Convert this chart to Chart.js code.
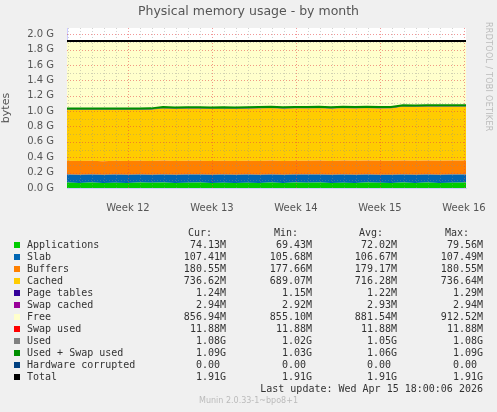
<!DOCTYPE html>
<html>
<head>
<meta charset="utf-8">
<script src="https://cdn.jsdelivr.net/npm/chart.js@4"></script>
<style>
  body { margin: 0; background: #f0f0f0; width: 497px; height: 412px; overflow: hidden; position: relative; font-family: "DejaVu Sans", sans-serif; }
  #wrap { position: absolute; left: 0; top: 0; width: 497px; height: 230px; }
  #title { position: absolute; top: 3px; width: 497px; text-align: center; font-size: 12.5px; color: #555; }
  #vtext { position: absolute; left: 484px; top: 22px; writing-mode: vertical-rl; font-size: 8px; color: #bbb; letter-spacing: 0.3px; }
  .mono { position: absolute; font-family: "DejaVu Sans Mono", monospace; font-size: 10px; color: #333; white-space: pre; line-height: 12px; }
  .sq { position: absolute; width: 6px; height: 6px; }
  #ver { position: absolute; top: 396px; width: 497px; text-align: center; font-size: 8px; color: #bbb; }
</style>
</head>
<body>
<div id="wrap"><canvas id="c" width="497" height="230"></canvas></div>
<div id="title">Physical memory usage - by month</div>
<div id="vtext">RRDTOOL / TOBI OETIKER</div>
<div id="legend"></div>
<div id="ver">Munin 2.0.33-1~bpo8+1</div>
<script>
// x positions in days since the left edge of the plot
const days = [0,1,2,3,4,5,6,7,8,9,10,11,12,13,14,15,16,17,18,19,20,21,22,23,24,25,26,27,28,29,30,31,32,33.25];
const weekTicks = [5.08, 12.08, 19.08, 26.08, 33.08];
const weekLabels = ["Week 12", "Week 13", "Week 14", "Week 15", "Week 16"];

// values in G
const applications = [0.070,0.066,0.070,0.066,0.069,0.066,0.070,0.067,0.070,0.066,0.069,0.070,0.066,0.068,0.066,0.067,0.066,0.070,0.066,0.070,0.068,0.070,0.066,0.069,0.066,0.070,0.067,0.066,0.070,0.066,0.070,0.066,0.069,0.072];
const slab = [0.105,0.106,0.106,0.105,0.106,0.106,0.105,0.106,0.107,0.106,0.107,0.106,0.106,0.107,0.106,0.107,0.106,0.107,0.107,0.106,0.107,0.107,0.106,0.107,0.107,0.107,0.106,0.107,0.107,0.107,0.107,0.107,0.107,0.105];
const buffers = [0.178,0.178,0.178,0.178,0.178,0.178,0.178,0.178,0.179,0.179,0.179,0.179,0.179,0.179,0.179,0.179,0.179,0.179,0.179,0.179,0.179,0.179,0.180,0.180,0.180,0.180,0.180,0.180,0.180,0.180,0.180,0.181,0.181,0.181];
const cached = [0.665,0.668,0.664,0.668,0.665,0.668,0.664,0.668,0.680,0.680,0.680,0.680,0.680,0.680,0.680,0.680,0.686,0.683,0.683,0.683,0.683,0.683,0.683,0.683,0.683,0.683,0.683,0.685,0.704,0.704,0.704,0.704,0.704,0.701];
const pageTables = [0.0012,0.0012,0.0012,0.0012,0.0012,0.0012,0.0012,0.0012,0.0012,0.0012,0.0012,0.0012,0.0012,0.0012,0.0012,0.0012,0.0012,0.0012,0.0012,0.0012,0.0012,0.0012,0.0012,0.0012,0.0012,0.0012,0.0012,0.0012,0.0012,0.0012,0.0012,0.0012,0.0012,0.0012];
const swapCached = [0.003,0.003,0.003,0.003,0.003,0.003,0.003,0.003,0.003,0.003,0.003,0.003,0.003,0.003,0.003,0.003,0.003,0.003,0.003,0.003,0.003,0.003,0.003,0.003,0.003,0.003,0.003,0.003,0.003,0.003,0.003,0.003,0.003,0.003];
const total = 1.91;
const swapUsed = 0.012;

const legendRows = [
  ["Applications", "#00cc00", "74.13M", "69.43M", "72.02M", "79.56M"],
  ["Slab", "#0066b3", "107.41M", "105.68M", "106.67M", "107.49M"],
  ["Buffers", "#ff8000", "180.55M", "177.66M", "179.17M", "180.55M"],
  ["Cached", "#ffcc00", "736.62M", "689.07M", "716.28M", "736.64M"],
  ["Page tables", "#330099", "1.24M", "1.15M", "1.22M", "1.29M"],
  ["Swap cached", "#990099", "2.94M", "2.92M", "2.93M", "2.94M"],
  ["Free", "#ffffcc", "856.94M", "855.10M", "881.54M", "912.52M"],
  ["Swap used", "#ff0000", "11.88M", "11.88M", "11.88M", "11.88M"],
  ["Used", "#808080", "1.08G", "1.02G", "1.05G", "1.08G"],
  ["Used + Swap used", "#008f00", "1.09G", "1.03G", "1.06G", "1.09G"],
  ["Hardware corrupted", "#004080", "0.00", "0.00", "0.00", "0.00"],
  ["Total", "#000000", "1.91G", "1.91G", "1.91G", "1.91G"],
];

const used = days.map((d, i) => applications[i] + slab[i] + buffers[i] + cached[i] + pageTables[i] + swapCached[i]);
const free = used.map(u => total - u);
const pts = arr => days.map((d, i) => ({ x: d, y: Array.isArray(arr) ? arr[i] : arr }));

function area(label, data, color, first) {
  return { label, data: pts(data), backgroundColor: color, borderColor: color, borderWidth: 0,
    fill: first ? "origin" : "-1", pointRadius: 0, yAxisID: "y", stack: "mem" };
}
function line(label, data, color, w) {
  return { label, data: pts(data), borderColor: color, borderWidth: w, fill: false, pointRadius: 0, yAxisID: "y2" };
}

const isWeek = v => weekTicks.some(w => Math.abs(w - v) < 0.01);
const isMajorY = v => Math.round(v * 10) % 2 === 0;

new Chart(document.getElementById("c"), {
  type: "line",
  data: {
    datasets: [
      area("Applications", applications, "#00cc00", true),
      area("Slab", slab, "#0066b3"),
      area("Buffers", buffers, "#ff8000"),
      area("Cached", cached, "#ffcc00"),
      area("Page tables", pageTables, "#330099"),
      area("Swap cached", swapCached, "#990099"),
      area("Free", free, "#ffffcc"),
      area("Swap used", swapUsed, "#ff0000"),
      line("Used", used, "#808080", 1),
      line("Used + Swap used", used.map(u => u + swapUsed), "#008f00", 2),
      line("Total", total, "#000000", 2),
    ],
  },
  options: {
    responsive: false, animation: false,
    layout: { padding: { top: 28, right: 31, left: 0, bottom: 0 } },
    plugins: { legend: { display: false }, tooltip: { enabled: false } },
    scales: {
      x: {
        type: "linear", min: 0, max: 33.25,
        afterBuildTicks: s => {
          const t = [];
          for (let d = 0.08; d <= 33.25; d += 1) t.push({ value: d });
          weekTicks.forEach(w => { if (!t.some(k => Math.abs(k.value - w) < 0.01)) t.push({ value: w }); });
          s.ticks = t;
        },
        afterFit: s => { s.height = 42; },
        grid: { display: false },
        border: { display: true, color: "#ccccff" },
        ticks: {
          autoSkip: false, maxRotation: 0, padding: 6, color: "#555", font: { size: 10, family: "DejaVu Sans" },
          callback: v => { const k = weekTicks.findIndex(w => Math.abs(w - v) < 0.01); return k >= 0 ? weekLabels[k] : ""; },
        },
      },
      y: {
        stacked: true, min: 0, max: 2.08,
        afterBuildTicks: s => {
          const t = [];
          for (let i = 0; i <= 20; i++) t.push({ value: i / 10 });
          s.ticks = t;
        },
        afterFit: s => { s.width = 67; },
        title: { display: true, text: "bytes", color: "#555", font: { size: 11, family: "DejaVu Sans" }, padding: 0 },
        grid: { display: false },
        border: { display: true, color: "#ccccff" },
        ticks: {
          autoSkip: false, padding: 5, color: "#555", font: { size: 10, family: "DejaVu Sans" },
          callback: v => isMajorY(v) ? v.toFixed(1) + " G" : "",
        },
      },
      y2: { display: false, min: 0, max: 2.08 },
    },
  },
  plugins: [{
    id: "munin",
    beforeDraw: chart => {
      const { ctx, chartArea: a } = chart;
      ctx.save(); ctx.fillStyle = "#ffffff";
      ctx.fillRect(a.left, a.top, a.right - a.left, a.bottom - a.top);
      ctx.restore();
    },
    // dotted grid drawn over the filled areas, like rrdtool
    afterDatasetsDraw: chart => {
      const { ctx, chartArea: a, scales } = chart;
      ctx.save();
      ctx.lineWidth = 1;
      ctx.setLineDash([1, 2]);
      scales.x.ticks.forEach(t => {
        const px = Math.round(scales.x.getPixelForValue(t.value)) + 0.5;
        ctx.strokeStyle = isWeek(t.value) ? "rgba(230,70,70,0.55)" : "rgba(140,140,140,0.4)";
        ctx.beginPath(); ctx.moveTo(px, a.top); ctx.lineTo(px, a.bottom); ctx.stroke();
      });
      scales.y.ticks.forEach(t => {
        if (t.value === 0) return;
        const py = Math.round(scales.y.getPixelForValue(t.value)) + 0.5;
        ctx.strokeStyle = isMajorY(t.value) ? "rgba(230,70,70,0.55)" : "rgba(140,140,140,0.4)";
        ctx.beginPath(); ctx.moveTo(a.left, py); ctx.lineTo(a.right, py); ctx.stroke();
      });
      ctx.restore();
      // redraw the top lines over the grid
      [10, 8, 9].forEach(i => chart.getDatasetMeta(i).controller.draw());
    },
  }],
});

// HTML legend
const legend = document.getElementById("legend");
const colsX = [226, 312, 397, 483];
const heads = ["Cur:", "Min:", "Avg:", "Max:"];
function span(text, left, top, right) {
  const e = document.createElement("div");
  e.className = "mono"; e.textContent = text; e.style.top = top + "px";
  if (right) { e.style.right = (497 - left) + "px"; } else { e.style.left = left + "px"; }
  legend.appendChild(e);
}
heads.forEach((h, j) => span(h, colsX[j] - 14, 227, true));
legendRows.forEach((r, i) => {
  const y = 239 + i * 12;
  const sq = document.createElement("div");
  sq.className = "sq"; sq.style.left = "14px"; sq.style.top = (y + 3) + "px"; sq.style.background = r[1];
  legend.appendChild(sq);
  span(r[0], 27, y, false);
  for (let j = 0; j < 4; j++) {
    const v = r[2 + j];
    span(v, colsX[j] - (v === "0.00" ? 6 : 0), y, true);
  }
});
span("Last update: Wed Apr 15 18:00:06 2026", 483, 383, true);
</script>
</body>
</html>
